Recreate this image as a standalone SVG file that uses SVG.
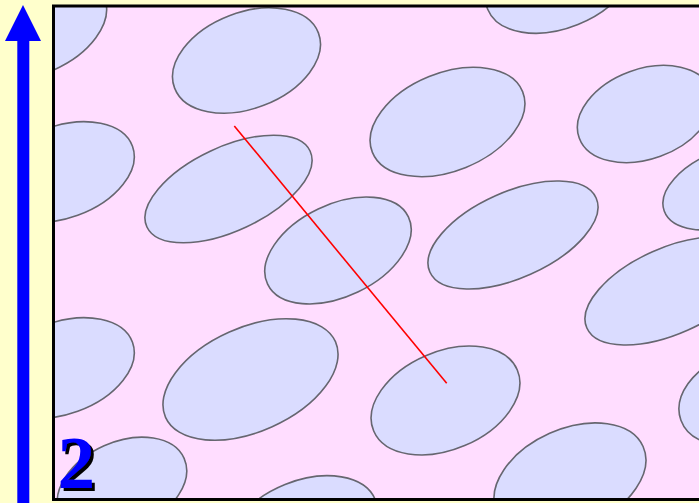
<svg xmlns="http://www.w3.org/2000/svg" width="699" height="503" viewBox="0 0 699 503">
<style>
.cell{fill:#dadcff;stroke:#666670;stroke-width:1.6}
.lbl{font-family:"Liberation Serif","Times New Roman",serif;font-weight:bold;font-size:75px;fill:#0000ff}
</style>
<defs>
<clipPath id="frame"><rect x="54" y="6" width="660" height="493.5"/></clipPath>
<filter id="shadow" x="-20%" y="-20%" width="150%" height="150%">
<feOffset in="SourceAlpha" dx="3" dy="3" result="off"/>
<feMerge><feMergeNode in="off"/><feMergeNode in="SourceGraphic"/></feMerge>
</filter>
</defs>
<rect x="0" y="0" width="699" height="503" fill="#ffffcc"/>
<g id="axis-arrow">
<rect x="17.3" y="40" width="12" height="470" fill="#0000ff"/>
<polygon points="5,41 41,41 23,5" fill="#0000ff"/>
</g>
<rect x="53.5" y="6" width="700" height="493.5" fill="#ffddff"/>
<g id="cells" clip-path="url(#frame)">
<g id="cell1"><ellipse class="cell" cx="32" cy="27" rx="78" ry="48" transform="rotate(-22 32 27)"/></g>
<g id="cell2"><ellipse class="cell" cx="246.5" cy="60.5" rx="77" ry="48" transform="rotate(-21 246.5 60.5)"/></g>
<g id="cell3"><ellipse class="cell" cx="560" cy="-20" rx="78" ry="48" transform="rotate(-22 560 -20)"/></g>
<g id="cell4"><ellipse class="cell" cx="447.5" cy="122" rx="81" ry="49" transform="rotate(-22 447.5 122)"/></g>
<g id="cell5"><ellipse class="cell" cx="645" cy="114" rx="70" ry="45" transform="rotate(-20 645 114)"/></g>
<g id="cell6"><ellipse class="cell" cx="62" cy="172" rx="75" ry="46" transform="rotate(-20 62 172)"/></g>
<g id="cell7"><ellipse class="cell" cx="228.5" cy="189" rx="90" ry="42" transform="rotate(-25 228.5 189)"/></g>
<g id="cell8"><ellipse class="cell" cx="338" cy="250.5" rx="78" ry="46" transform="rotate(-25.5 338 250.5)"/></g>
<g id="cell9"><ellipse class="cell" cx="513" cy="235" rx="91" ry="43" transform="rotate(-24 513 235)"/></g>
<g id="cell10"><ellipse class="cell" cx="730" cy="187" rx="70" ry="38" transform="rotate(-20 730 187)"/></g>
<g id="cell11"><ellipse class="cell" cx="670" cy="291" rx="91" ry="43" transform="rotate(-24 670 291)"/></g>
<g id="cell12"><ellipse class="cell" cx="62" cy="368" rx="75" ry="46" transform="rotate(-20 62 368)"/></g>
<g id="cell13"><ellipse class="cell" cx="250.5" cy="379.5" rx="93" ry="52" transform="rotate(-24 250.5 379.5)"/></g>
<g id="cell14"><ellipse class="cell" cx="445.5" cy="400.5" rx="78" ry="49" transform="rotate(-23 445.5 400.5)"/></g>
<g id="cell15"><ellipse class="cell" cx="742" cy="398" rx="65" ry="45" transform="rotate(-20 742 398)"/></g>
<g id="cell16"><ellipse class="cell" cx="122" cy="486" rx="68" ry="44" transform="rotate(-24 122 486)"/></g>
<g id="cell17"><ellipse class="cell" cx="570" cy="479" rx="80" ry="50" transform="rotate(-24 570 479)"/></g>
<g id="cell18"><ellipse class="cell" cx="303" cy="529" rx="78" ry="48" transform="rotate(-22 303 529)"/></g>
</g>
<g id="connectors">
<line x1="234.3" y1="126" x2="446.7" y2="383.3" stroke="#ff0000" stroke-width="1.6"/>
</g>
<rect x="53.5" y="6" width="700" height="493.5" fill="none" stroke="#000" stroke-width="3"/>
<g id="label">
<text class="lbl" x="57.5" y="488" filter="url(#shadow)">2</text>
</g>
</svg>
